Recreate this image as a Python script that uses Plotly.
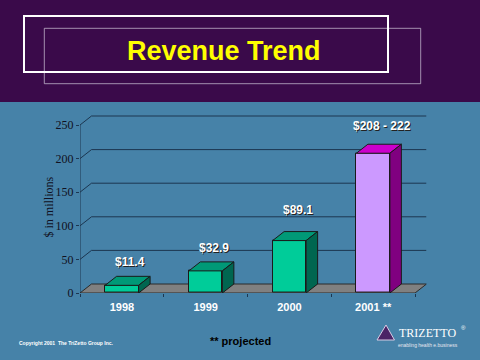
import plotly.graph_objects as go

# ---- data ----
years = ["1998", "1999", "2000", "2001 **"]
bar_heights = [11.4, 32.9, 78, 208]          # heights as drawn
bar_labels = ["$11.4", "$32.9", "$89.1", "$208 - 222"]
label_values = [11.4, 32.9, 89.1, 215]        # value each label refers to
y_ticks = [0, 50, 100, 150, 200, 250]
projected = [False, False, False, True]

# ---- style ----
W, H = 480, 360
BLUE = "#4682A8"
PURPLE_BAND = "#3A0A4A"
GRID = "#1C3650"
DX, DY = 0.137, 13.4      # 3-D depth offsets (in axis units)
BW = 0.4                  # bar width
X0, X1 = -0.5, 3.5

def px(x):
    return x / W

def py(y):
    return 1 - y / H

front_col = ["#CC99FF" if p else "#00CC99" for p in projected]
top_col = ["#CC00CC" if p else "#009977" for p in projected]
side_col = ["#800080" if p else "#006650" for p in projected]

fig = go.Figure()

# front faces
fig.add_trace(go.Bar(
    x=list(range(len(years))), y=bar_heights, width=BW,
    marker=dict(color=front_col, line=dict(color="#1a1a1a", width=1)),
    hoverinfo="skip", showlegend=False,
))

# top and side faces derived from the values
for i, v in enumerate(bar_heights):
    l, r = i - BW / 2, i + BW / 2
    fig.add_trace(go.Scatter(
        x=[l, r, r + DX, l + DX, l], y=[v, v, v + DY, v + DY, v],
        fill="toself", fillcolor=top_col[i], mode="lines",
        line=dict(color="#1a1a1a", width=1), hoverinfo="skip", showlegend=False))
    fig.add_trace(go.Scatter(
        x=[r, r + DX, r + DX, r, r], y=[0, DY, v + DY, v, 0],
        fill="toself", fillcolor=side_col[i], mode="lines",
        line=dict(color="#1a1a1a", width=1), hoverinfo="skip", showlegend=False))

shapes = []
# header band
shapes.append(dict(type="rect", xref="paper", yref="paper", x0=0, x1=1, y0=py(102), y1=1,
                   fillcolor=PURPLE_BAND, line=dict(width=0), layer="below"))
# title frames
shapes.append(dict(type="rect", xref="paper", yref="paper", x0=px(44.3), x1=px(420.7),
                   y0=py(83.7), y1=py(28.3), line=dict(color="rgba(200,190,210,0.75)", width=1)))
shapes.append(dict(type="rect", xref="paper", yref="paper", x0=px(24), x1=px(388),
                   y0=py(72), y1=py(16), line=dict(color="white", width=2)))
# back-wall grid lines with side-wall diagonals
for t in y_ticks[1:]:
    shapes.append(dict(type="path", xref="x", yref="y", layer="below",
                       path=f"M {X0} {t} L {X0 + DX} {t + DY} L {X1 + DX} {t + DY}",
                       line=dict(color=GRID, width=1)))
# front axis line
shapes.append(dict(type="line", xref="x", yref="y", layer="below",
                   x0=X0, x1=X0, y0=0, y1=y_ticks[-1], line=dict(color=GRID, width=1)))
# floor
shapes.append(dict(type="path", xref="x", yref="y", layer="below",
                   path=f"M {X0} 0 L {X1} 0 L {X1 + DX} {DY} L {X0 + DX} {DY} Z",
                   fillcolor="#808080", line=dict(color="#2a2a2a", width=1)))
# logo triangle
shapes.append(dict(type="path", xref="paper", yref="paper",
                   path=f"M {px(386)} {py(325)} L {px(394.5)} {py(340)} L {px(377)} {py(340)} Z",
                   fillcolor="#4B2466", line=dict(color="#D8CCE4", width=1)))

annotations = []
for i, (lab, lv) in enumerate(zip(bar_labels, label_values)):
    annotations.append(dict(x=i + 0.1, y=lv + 34, xref="x", yref="y", text=lab,
                            showarrow=False, xanchor="center", yanchor="middle",
                            font=dict(family="Arial, Liberation Sans", size=12, color="white",
                                      weight="bold", shadow="1px 1px 0px #222")))
annotations += [
    dict(x=px(224), y=py(51), xref="paper", yref="paper", text="Revenue Trend",
         showarrow=False, xanchor="center", yanchor="middle",
         font=dict(family="Arial, Liberation Sans", size=27, color="#FFFF00", weight="bold")),
    dict(x=px(49), y=py(207.5), xref="paper", yref="paper", text="$ in millions",
         showarrow=False, xanchor="center", yanchor="middle", textangle=-90,
         font=dict(family="Liberation Serif, Times New Roman, serif", size=12, color="#111122")),
    dict(x=px(17), y=py(342.5), xref="paper", yref="paper",
         text="Copyright 2001  The TriZetto Group Inc.", showarrow=False,
         xanchor="left", yanchor="middle",
         font=dict(family="Arial, Liberation Sans", size=5, color="white", weight="bold")),
    dict(x=px(240), y=py(340.5), xref="paper", yref="paper", text="** projected",
         showarrow=False, xanchor="center", yanchor="middle",
         font=dict(family="Arial, Liberation Sans", size=11, color="black", weight="bold")),
    dict(x=px(397), y=py(332.5), xref="paper", yref="paper", text="TRIZETTO",
         showarrow=False, xanchor="left", yanchor="middle",
         font=dict(family="Liberation Serif, serif", size=12, color="white")),
    dict(x=px(459), y=py(328), xref="paper", yref="paper", text="®",
         showarrow=False, xanchor="left", yanchor="middle",
         font=dict(family="Arial, Liberation Sans", size=6, color="white")),
    dict(x=px(460), y=py(344.5), xref="paper", yref="paper",
         text="enabling health e.business", showarrow=False,
         xanchor="right", yanchor="middle",
         font=dict(family="Arial, Liberation Sans", size=5, color="#E8E8F0")),
]

fig.update_layout(
    width=W, height=H, margin=dict(l=0, r=0, t=0, b=0, autoexpand=False),
    paper_bgcolor=BLUE, plot_bgcolor="rgba(0,0,0,0)",
    showlegend=False, bargap=0,
    shapes=shapes, annotations=annotations,
    xaxis=dict(domain=[px(80), px(426.5)], range=[X0, X1 + DX], automargin=False,
               tickvals=list(range(len(years))), ticktext=years,
               showgrid=False, zeroline=False, showline=False, ticks="",
               ticklabelstandoff=6,
               tickfont=dict(family="Arial, Liberation Sans", size=11, color="white", weight="bold"),
               minor=dict(tickvals=[-0.5, 0.5, 1.5, 2.5, 3.5], ticks="outside", ticklen=3,
                          tickcolor=GRID, showgrid=False),
               fixedrange=True),
    yaxis=dict(domain=[py(293), py(293 - 270 * 0.672)], range=[0, 270], automargin=False,
               tickvals=y_ticks, showgrid=False, zeroline=False, showline=False,
               ticks="outside", ticklen=3, tickcolor=GRID,
               tickfont=dict(family="Liberation Serif, Times New Roman, serif", size=12, color="#111122"),
               fixedrange=True),
)

fig.write_html("out.html", config={"displayModeBar": False},
               post_script="document.body.style.margin='0';document.body.style.overflow='hidden';")
